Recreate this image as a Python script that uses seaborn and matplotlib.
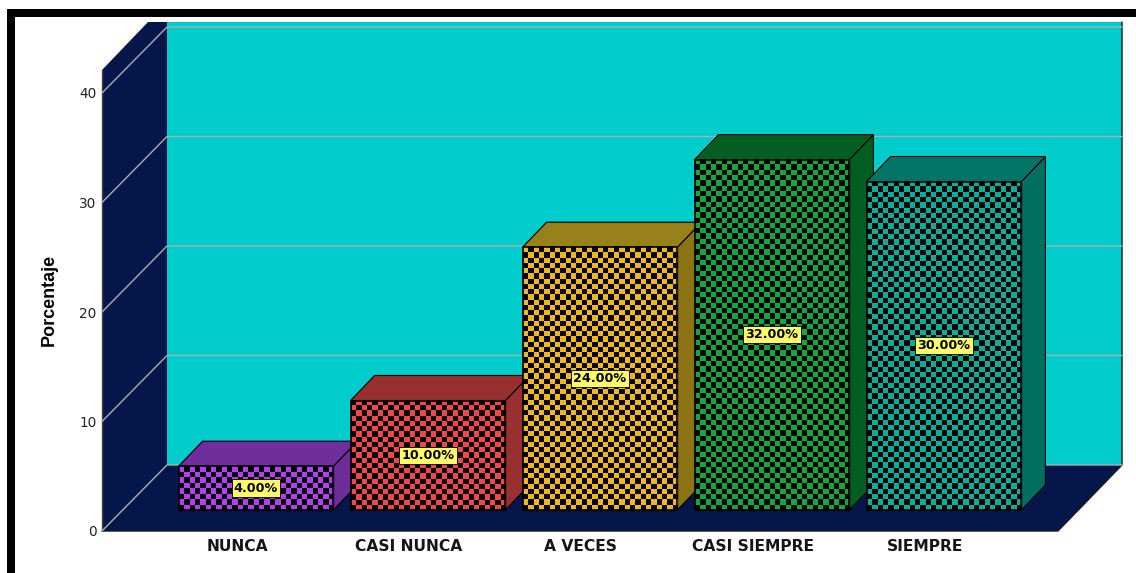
import numpy as np
import seaborn as sns
import matplotlib
matplotlib.use("Agg")
import matplotlib.pyplot as plt
from matplotlib.colors import ListedColormap
from matplotlib.patches import Polygon, Rectangle

categories = ["NUNCA", "CASI NUNCA", "A VECES", "CASI SIEMPRE", "SIEMPRE"]
values = [4, 10, 24, 32, 30]
value_labels = ["4.00%", "10.00%", "24.00%", "32.00%", "30.00%"]
y_ticks = [0, 10, 20, 30, 40]
front_colors = ["#B040F0", "#F04848", "#F0B818", "#10A838", "#00B09C"]
top_colors = ["#702E9C", "#983030", "#98801A", "#005E22", "#007466"]
side_colors = ["#6E2C98", "#983030", "#8C7414", "#005E22", "#006E60"]
wall_color = "#00CCCC"
navy = "#05174A"
grid_color = "#A8B0B0"

W, H = 1136, 573
sns.set_theme(style="white")
fig = plt.figure(figsize=(W / 100, H / 100), dpi=100, facecolor="white")


def px_axes(left, top, right, bottom):
    return fig.add_axes([left / W, 1 - bottom / H, (right - left) / W, (bottom - top) / H])


# --- room (frame, wall, floor) in pixel space
bg = px_axes(0, 0, W, H)
bg.set_xlim(0, W)
bg.set_ylim(H, 0)
bg.axis("off")
bg.add_patch(Rectangle((7, 9), W - 7, 8, color="black", lw=0))
bg.add_patch(Rectangle((7, 9), 8, H - 9, color="black", lw=0))
bg.add_patch(Rectangle((167, 22), 955, 443, fc=wall_color, ec="none"))
bg.add_patch(Polygon([(102, 531), (102, 70), (148, 22), (167, 22), (167, 465)], fc=navy, ec="none"))
bg.add_patch(Polygon([(102, 531), (167, 465), (1122, 465), (1058, 531)], fc=navy, ec="none"))
bg.plot([102, 102], [70, 531], color="#444444", lw=1)
bg.plot([102, 1058, 1122, 1122], [531, 531, 465, 22], color="#101820", lw=1)
for tick in y_ticks:
    off = tick * 10.95
    bg.plot([102, 167, 1122], [531 - off, 465 - off, 465 - off], color=grid_color, lw=1)

# --- real axis: tick labels and categories on the floor's front edge
ax_axis = px_axes(102, 93, 1058, 531)
ax_axis.patch.set_alpha(0)
sns.barplot(x=categories, y=[0] * 5, ax=ax_axis, color="none", linewidth=0, edgecolor="none")
ax_axis.set_xlim((102 - 237) / 172, (1058 - 237) / 172)
ax_axis.set_ylim(0, 40)
ax_axis.set_yticks(y_ticks)
ax_axis.tick_params(axis="y", length=0, pad=4, labelsize=9.8, labelcolor="#222222")
ax_axis.tick_params(axis="x", length=0, pad=6)
for lab in ax_axis.get_xticklabels():
    lab.set_fontsize(11.2)
    lab.set_fontweight("bold")
    lab.set_color("#151515")
ax_axis.set_ylabel("Porcentaje", fontsize=13, fontweight="bold",
                   family="Liberation Sans", color="black")
ax_axis.yaxis.set_label_coords((58 - 102) / 956, (531 - 300) / 438)
sns.despine(ax=ax_axis, left=True, bottom=True)

# --- bars: shifted up and right into the room
ax = px_axes(0, 0, W, H)
ax.patch.set_alpha(0)
sns.barplot(x=categories, y=values, hue=categories, palette=front_colors, order=categories,
            hue_order=categories, width=0.9, legend=False, ax=ax,
            edgecolor="black", linewidth=1)
xlim = (-256 / 172, (W - 256) / 172)
ylim = (-(H - 510) / 10.95, 510 / 10.95)
dx, dy = 24 / 172, 25 / 10.95
cell_w, cell_h = 5.3 / 172, 5.3 / 10.95
bars = [b for c in ax.containers for b in c.patches]
for i, bar in enumerate(bars):
    x0, x1 = bar.get_x(), bar.get_x() + bar.get_width()
    h = bar.get_height()
    z = 3 + i * 5
    ax.add_patch(Polygon([(x1, 0), (x1 + dx, dy), (x1 + dx, h + dy), (x1, h)],
                         fc=side_colors[i], ec="black", lw=0.8, zorder=z))
    ax.add_patch(Polygon([(x0, h), (x0 + dx, h + dy), (x1 + dx, h + dy), (x1, h)],
                         fc=top_colors[i], ec="black", lw=0.8, zorder=z))
    bar.set_zorder(z + 1)
    nx, ny = int(round((x1 - x0) / cell_w)), int(round(h / cell_h))
    board = np.indices((ny, nx)).sum(axis=0) % 2
    ax.imshow(board, cmap=ListedColormap(["black", front_colors[i]]), vmin=0, vmax=1,
              extent=(x0, x1, 0, h), origin="lower", aspect="auto",
              interpolation="nearest", zorder=z + 2)
    edge = Rectangle((x0, 0), x1 - x0, h, fc="none", ec="black", lw=1.2, zorder=z + 3)
    ax.add_patch(edge)
    ax.text((x0 + x1) / 2, h / 2, value_labels[i], ha="center", va="center", fontsize=9.2,
            fontweight="bold", color="black", zorder=z + 4,
            bbox=dict(boxstyle="square,pad=0.17", fc="#FFFF66", ec="black", lw=0.6))
ax.set_xlim(*xlim)
ax.set_ylim(*ylim)
ax.axis("off")

fig.savefig("out.png", dpi=100, facecolor="white")
